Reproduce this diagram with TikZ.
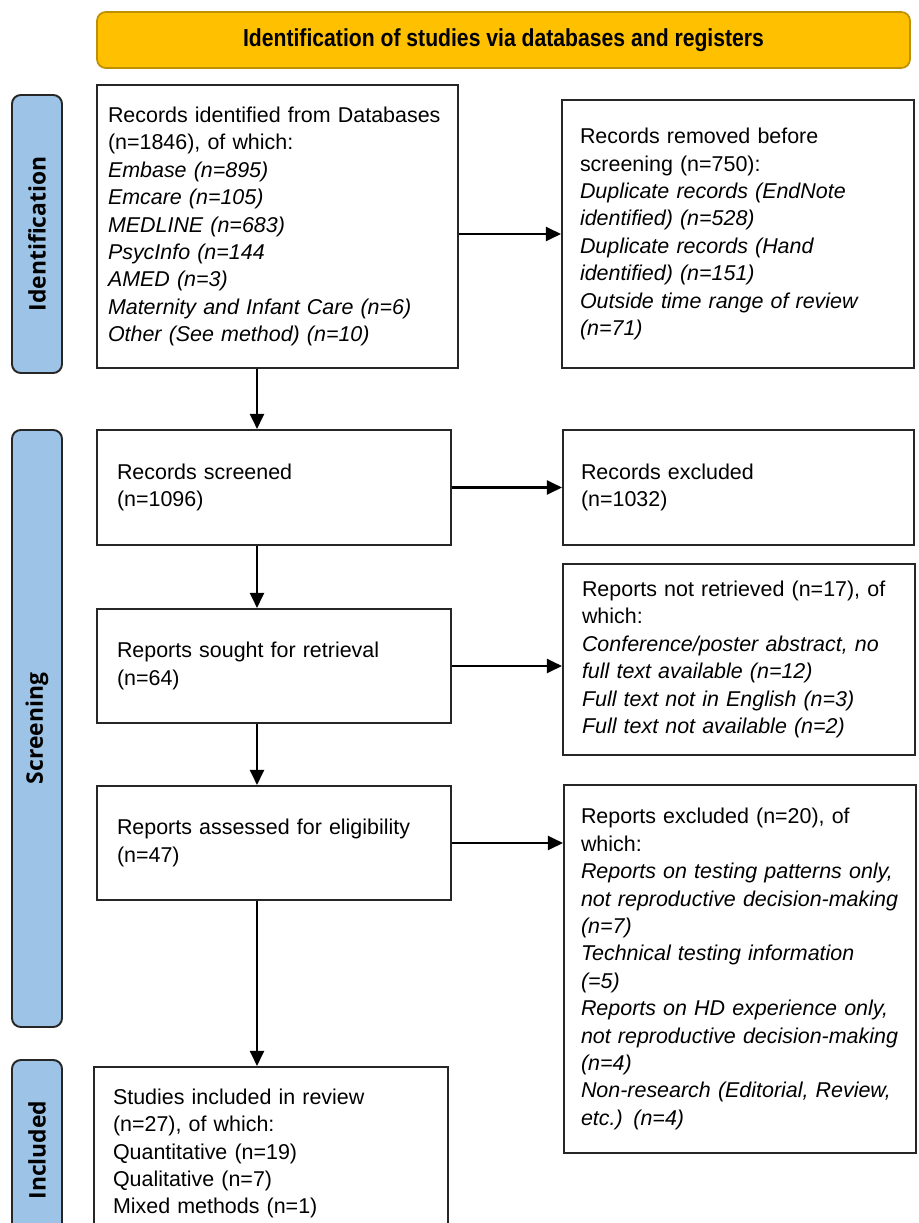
\documentclass[tikz,border=0pt]{standalone}
\usepackage{fontspec}
\setmainfont{Liberation Sans}
\newfontfamily\headfont{Liberation Sans}[FakeStretch=0.86]
\newfontfamily\sidefont{Open Sans}
\usetikzlibrary{arrows.meta, calc}

\definecolor{headgold}{HTML}{FFC000}
\definecolor{headedge}{HTML}{BF9000}
\definecolor{phaseblue}{HTML}{9DC3E6}

\begin{document}
\begin{tikzpicture}[
    >={Triangle[length=0.3cm, width=0.28cm]},
    % --- Styles ---
    banner/.style={draw=headedge, line width=1pt, fill=headgold, rounded corners=5pt, minimum width=16.26cm, minimum height=1.12cm, font=\headfont\fontsize{14}{16}\selectfont\bfseries},
    phase/.style={draw=black!85, line width=1.1pt, fill=phaseblue, rounded corners=5pt, rotate=90, minimum height=1.0cm, font=\sidefont\fontsize{13}{15}\selectfont\bfseries},
    stage/.style={draw=black!85, line width=1.2pt, fill=white, align=left, inner xsep=#1, font=\fontsize{12.2}{15.6}\selectfont},
    stage/.default=0.36cm,
    arrow_black/.style={->, line width=1.3pt, color=black},
]

    \path[use as bounding box] (0,0) rectangle (18.36,-24.46);
    \clip (0,0) rectangle (18.36,-24.46);

    % ==========================
    % 1. HEADER AND PHASE LABELS
    % ==========================
    \node[banner] (title) at (10.07,-0.8) {Identification of studies via databases and registers};

    \node[phase, minimum width=5.56cm] (lab_id) at (0.74,-4.68) {Identification};
    \node[phase, minimum width=11.94cm] (lab_scr) at (0.74,-14.57) {Screening};
    \node[phase, minimum width=3.6cm] (lab_inc) at (0.74,-23.0) {Included};

    % ==========================
    % 2. IDENTIFICATION
    % ==========================
    \node[stage=0.22cm, minimum width=7.22cm, minimum height=5.66cm, text width=6.78cm] (ident) at (5.55,-4.53) {Records identified from Databases\\
    (n=1846), of which:\\
    \textit{Embase (n=895)}\\
    \textit{Emcare (n=105)}\\
    \textit{MEDLINE (n=683)}\\
    \textit{PsycInfo (n=144}\\
    \textit{AMED (n=3)}\\
    \textit{Maternity and Infant Care (n=6)}\\
    \textit{Other (See method) (n=10)}};

    \node[stage, minimum width=7.04cm, minimum height=5.36cm, text width=6.32cm] (removed) at (14.76,-4.68) {Records removed before\\
    screening (n=750):\\
    \textit{Duplicate records (EndNote}\\
    \textit{identified) (n=528)}\\
    \textit{Duplicate records (Hand}\\
    \textit{identified) (n=151)}\\
    \textit{Outside time range of review}\\
    \textit{(n=71)}};

    % ==========================
    % 3. SCREENING
    % ==========================
    \node[stage=0.4cm, minimum width=7.08cm, minimum height=2.3cm, text width=6.28cm] (screened) at (5.48,-9.75) {Records screened\\ (n=1096)};
    \node[stage, minimum width=7.02cm, minimum height=2.3cm, text width=6.3cm] (excluded) at (14.77,-9.75) {Records excluded\\ (n=1032)};

    \node[stage=0.4cm, minimum width=7.08cm, minimum height=2.28cm, text width=6.28cm] (sought) at (5.48,-13.32) {Reports sought for retrieval\\ (n=64)};
    \node[stage=0.38cm, minimum width=7.04cm, minimum height=3.82cm, text width=6.28cm] (notret) at (14.78,-13.19) {Reports not retrieved (n=17), of\\
    which:\\
    \textit{Conference/poster abstract, no}\\
    \textit{full text available (n=12)}\\
    \textit{Full text not in English (n=3)}\\
    \textit{Full text not available (n=2)}};

    \node[stage=0.4cm, minimum width=7.08cm, minimum height=2.28cm, text width=6.28cm] (assessed) at (5.48,-16.86) {Reports assessed for eligibility\\ (n=47)};
    \node[stage=0.34cm, minimum width=7.04cm, minimum height=7.36cm, text width=6.36cm] (repexcl) at (14.8,-19.38) {Reports excluded (n=20), of\\
    which:\\
    \textit{Reports on testing patterns only,}\\
    \textit{not reproductive decision-making}\\
    \textit{(n=7)}\\
    \textit{Technical testing information}\\
    \textit{(=5)}\\
    \textit{Reports on HD experience only,}\\
    \textit{not reproductive decision-making}\\
    \textit{(n=4)}\\
    \textit{Non-research (Editorial, Review,}\\
    \textit{etc.) (n=4)}};

    % ==========================
    % 4. INCLUDED
    % ==========================
    \node[stage=0.38cm, minimum width=7.08cm, minimum height=3.46cm, text width=6.32cm] (included) at (5.42,-23.07) {Studies included in review\\
    (n=27), of which:\\
    Quantitative (n=19)\\
    Qualitative (n=7)\\
    Mixed methods (n=1)};

    % Flow arrows
    \coordinate (spine) at (5.14,0);
    \draw[arrow_black] (ident.south -| spine) -- (screened.north -| spine);
    \draw[arrow_black] (screened.south -| spine) -- (sought.north -| spine);
    \draw[arrow_black] (sought.south -| spine) -- (assessed.north -| spine);
    \draw[arrow_black] (assessed.south -| spine) -- (included.north -| spine);

    \draw[arrow_black] (removed.west -| ident.east) -- (removed.west);
    \draw[arrow_black] (screened.east) -- (excluded.west);
    \draw[arrow_black] (sought.east) -- (sought.east -| notret.west);
    \draw[arrow_black] (assessed.east) -- (assessed.east -| repexcl.west);

\end{tikzpicture}
\end{document}
